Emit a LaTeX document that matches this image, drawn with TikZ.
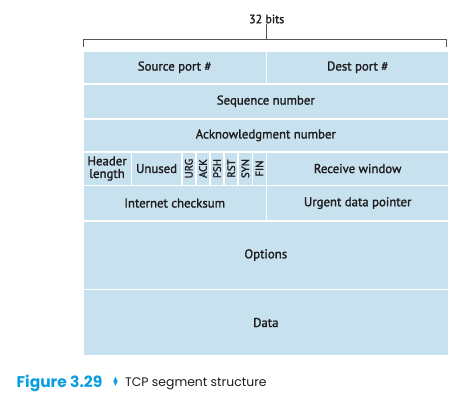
\documentclass[tikz,border=0pt]{standalone}
\usepackage{fontspec}
\setmainfont{PT Sans}
\newfontfamily\medfont{PT Sans}[FakeBold=1.5]
\newfontfamily\capfont{Poppins}
\newfontfamily\symfont{DejaVu Sans}
\definecolor{cellblue}{RGB}{200,225,238}
\definecolor{capblue}{RGB}{10,158,222}
\definecolor{txt}{RGB}{30,28,30}
\begin{document}
\begin{tikzpicture}[x=1pt,y=-1pt,
  cell/.style={draw=white,line width=1.6pt,fill=cellblue,anchor=north west,inner sep=0pt,
    text=txt,font=\medfont\fontsize{12.8}{12.6}\selectfont,align=center},
  flagtxt/.style={rotate=90,inner sep=0pt,text=txt,font=\medfont\fontsize{10.8}{11}\selectfont},
  brk/.style={draw=txt!75,line width=0.7pt}]
\useasboundingbox (0,0) rectangle (464,408);
% row 1
\node[cell,minimum width=183.7pt,minimum height=33pt] (src) at (82,50) {Source port \#};
\node[cell,minimum width=182.3pt,minimum height=33pt] (dst) at (265.7,50) {Dest port \#};
% row 2
\node[cell,minimum width=366pt,minimum height=35pt] (seq) at (82,83) {Sequence number};
% row 3
\node[cell,minimum width=366pt,minimum height=33pt] (ack) at (82,118) {Acknowledgment number};
% row 4
\node[cell,minimum width=48.5pt,minimum height=33.5pt] (hl) at (82,151) {Header\\length};
\node[cell,minimum width=50.5pt,minimum height=33.5pt] (unused) at (130.5,151) {Unused};
\foreach \f [count=\i from 0] in {URG,ACK,PSH,RST,SYN,FIN}{
  \node[cell,minimum width=14.12pt,minimum height=33.5pt] (f\f) at (181+14.12*\i,151) {};
  \node[flagtxt] (t\f) at (f\f.center) {\f};
}
\node[cell,minimum width=182.3pt,minimum height=33.5pt] (rw) at (265.7,151) {Receive window};
% row 5
\node[cell,minimum width=183.7pt,minimum height=35.5pt] (chk) at (82,184.5) {Internet checksum};
\node[cell,minimum width=182.3pt,minimum height=35.5pt] (urg) at (265.7,184.5) {Urgent data pointer};
% row 6
\node[cell,minimum width=366pt,minimum height=68.5pt] (opt) at (82,220) {Options};
% row 7
\node[cell,minimum width=366pt,minimum height=66.5pt] (data) at (82,288.5) {Data};
% bracket
\coordinate (bl) at (83.3,47);
\coordinate (br) at (446.7,47);
\coordinate (bc) at (266.2,39);
\node[text=txt,font=\medfont\fontsize{12}{12}\selectfont,inner sep=0pt] (bits) at (266.7,19) {32 bits};
\draw[brk] (bl) -- (bl |- bc) -- (br |- bc) -- (br);
\draw[brk] (bc) -- (bits.south -| bc);
% caption
\node[anchor=base west,inner sep=0pt,text=capblue,font=\capfont\bfseries\fontsize{15.5}{15.5}\selectfont] (fig) at (16.5,387) {Figure 3.29};
\node[anchor=base west,inner sep=0pt,text=capblue,font=\symfont\fontsize{13}{13}\selectfont] (dia) at (112,386.5) {\scalebox{0.6}[1]{♦}};
\node[anchor=base west,inner sep=0pt,text=txt,font=\capfont\fontsize{12.4}{13}\selectfont] (cap) at (125,386.5) {TCP segment structure};
\end{tikzpicture}
\end{document}
